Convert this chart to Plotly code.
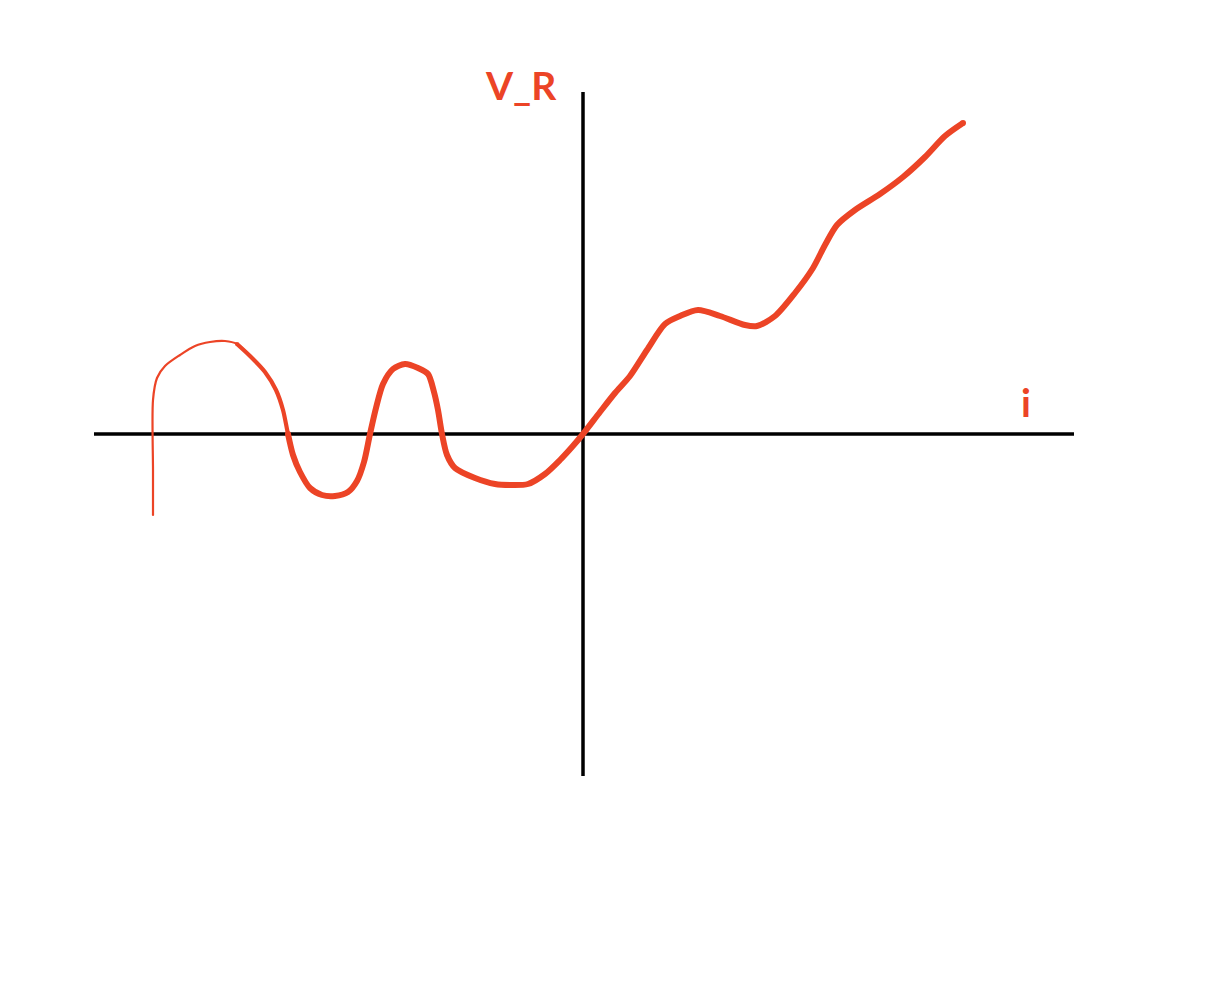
import plotly.graph_objects as go

# current (i) and voltage (V_R) samples
i_thin = [-4.30, -4.30, -4.30, -4.26, -4.18, -4.03, -3.88, -3.73, -3.58, -3.46, -3.33]
v_thin = [-0.81, -0.36, 0.34, 0.56, 0.68, 0.79, 0.88, 0.92, 0.93, 0.90, 0.78]

i_mid = [-3.46, -3.33, -3.18, -3.07, -3.00, -2.95, -2.90]
v_mid = [0.90, 0.78, 0.62, 0.44, 0.24, 0.00, -0.21]

i_thick = [-2.95, -2.90, -2.83, -2.73, -2.61, -2.48, -2.35, -2.26, -2.19, -2.13,
           -2.07, -2.00, -1.90, -1.78, -1.65, -1.55, -1.49, -1.45, -1.41, -1.36,
           -1.28, -1.08, -0.88, -0.73, -0.55, -0.38, -0.23, -0.11, 0.00, 0.17,
           0.32, 0.47, 0.64, 0.82, 0.97, 1.15, 1.37, 1.62, 1.74, 1.92,
           2.12, 2.30, 2.42, 2.54, 2.72, 2.97, 3.20, 3.42, 3.62, 3.80]
v_thick = [0.00, -0.21, -0.38, -0.54, -0.61, -0.62, -0.58, -0.47, -0.28, 0.00,
           0.26, 0.50, 0.65, 0.70, 0.66, 0.60, 0.42, 0.24, 0.00, -0.21,
           -0.34, -0.44, -0.50, -0.51, -0.50, -0.40, -0.26, -0.13, 0.00, 0.22,
           0.41, 0.58, 0.84, 1.10, 1.18, 1.24, 1.18, 1.09, 1.08, 1.18,
           1.41, 1.66, 1.89, 2.09, 2.24, 2.40, 2.57, 2.77, 2.98, 3.11]

axis_i_extent = [-4.89, 4.91]
axis_v_extent = [-3.42, 3.42]

RED = "#EC4426"

fig = go.Figure()
for xs, ys, w in [(i_thin, v_thin, 2.2), (i_mid, v_mid, 4.2), (i_thick, v_thick, 6.0)]:
    fig.add_trace(go.Scatter(x=xs, y=ys, mode="lines",
                             line=dict(color=RED, width=w, shape="spline", smoothing=0.8),
                             hoverinfo="skip", showlegend=False))
    # rounded caps at both ends of each stroke piece
    fig.add_trace(go.Scatter(x=[xs[0], xs[-1]], y=[ys[0], ys[-1]], mode="markers",
                             marker=dict(color=RED, size=w, line=dict(width=0)),
                             hoverinfo="skip", showlegend=False))

fig.add_shape(type="line", x0=axis_i_extent[0], x1=axis_i_extent[1], y0=0, y1=0,
              line=dict(color="black", width=3.5), layer="below")
fig.add_shape(type="line", x0=0, x1=0, y0=axis_v_extent[0], y1=axis_v_extent[1],
              line=dict(color="black", width=3.5), layer="below")

fig.add_annotation(x=-0.62, y=3.49, text="<b>V_R</b>", showarrow=False,
                   font=dict(family="Lato", size=39, color=RED))
fig.add_annotation(x=4.43, y=0.32, text="<b>i</b>", showarrow=False,
                   font=dict(family="Lato", size=39, color=RED))

fig.update_layout(
    width=1206, height=998,
    margin=dict(l=0, r=0, t=0, b=0),
    paper_bgcolor="white", plot_bgcolor="white",
    xaxis=dict(range=[-5.83, 6.23], visible=False, fixedrange=True),
    yaxis=dict(range=[-5.64, 4.34], visible=False, fixedrange=True),
)

fig.write_html("out.html", config={"displayModeBar": False},
               post_script="document.body.style.margin='0';")
